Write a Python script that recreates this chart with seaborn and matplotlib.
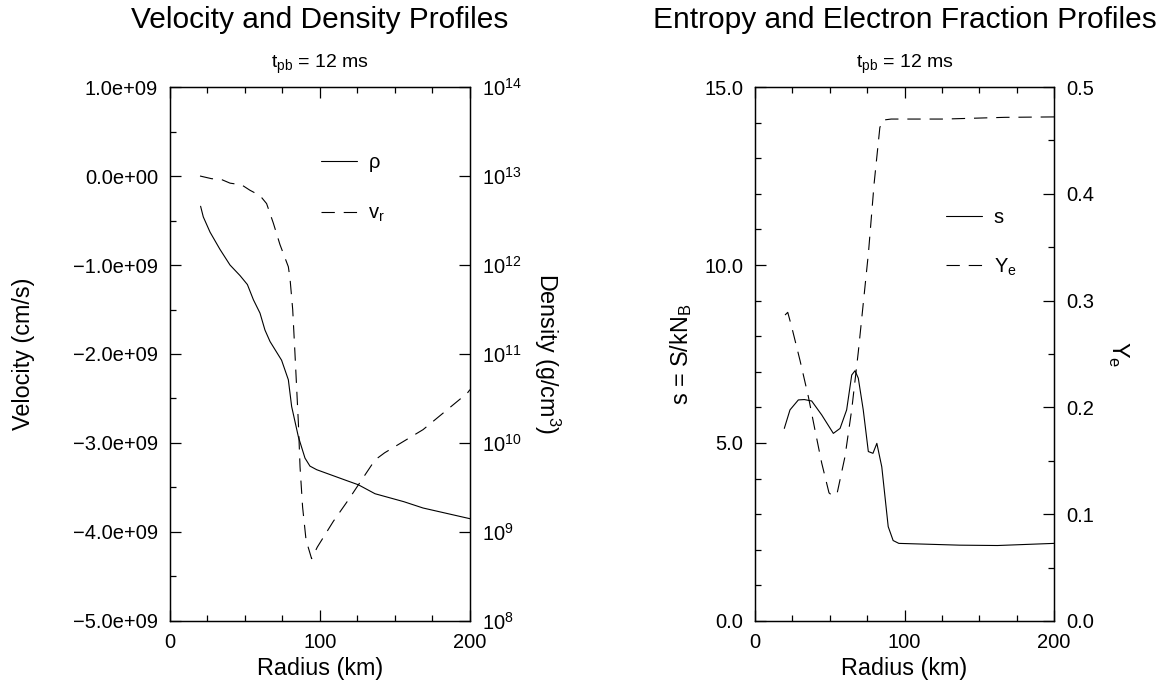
import matplotlib
matplotlib.use("Agg")
import matplotlib.pyplot as plt
import matplotlib.ticker as mticker
import seaborn as sns

# velocity / density profile (left panel)
r_vel = [20, 27.7, 34.4, 40, 47.8, 53.3, 60, 64.4, 68.9, 73.3, 78.9, 80, 81.8, 83.3,
         85.6, 86.7, 88.4, 90.7, 94.4, 98.2, 108.9, 118.9, 125.6, 136.7, 143.1, 168.7,
         198.2, 200]
vel = [0.0, -0.03, -0.04, -0.08, -0.1, -0.16, -0.22, -0.31, -0.53, -0.77, -1.02, -1.15,
       -1.5, -1.99, -2.78, -3.27, -3.72, -4.09, -4.3, -4.17, -3.88, -3.64, -3.47, -3.19,
       -3.11, -2.85, -2.44, -2.4]
vel = [v * 1e9 for v in vel]

r_rho = [20.4, 22.2, 26.7, 33.3, 40, 46.7, 51.6, 55.6, 60, 63.3, 66.7, 74.4, 78.9, 81.1,
         85.6, 90, 93.3, 97.8, 117.4, 125.6, 136.7, 155.9, 168.7, 200]
rho = [4.57e12, 3.47e12, 2.34e12, 1.5e12, 1.0e12, 7.6e11, 6.03e11, 4.07e11, 2.88e11,
       1.86e11, 1.38e11, 8.51e10, 5.13e10, 2.57e10, 1.17e10, 6.76e9, 5.5e9, 5.01e9,
       3.8e9, 3.39e9, 2.69e9, 2.19e9, 1.86e9, 1.41e9]

# entropy / electron fraction profile (right panel)
r_s = [19.6, 23.4, 29, 33, 37.9, 44.6, 52.4, 56.9, 61.3, 64.7, 66.9, 69.1, 72.4, 75.8,
       78.9, 81.5, 84.8, 89.1, 92.4, 96.2, 136.8, 162.2, 200]
entropy = [5.41, 5.93, 6.21, 6.22, 6.18, 5.79, 5.27, 5.41, 5.93, 6.91, 7.03, 6.82, 5.93,
           4.76, 4.71, 4.99, 4.33, 2.65, 2.26, 2.18, 2.13, 2.12, 2.18]

r_ye = [20.1, 21.9, 24.5, 30.1, 35.7, 40.1, 44.6, 49.5, 52, 55, 60.2, 64.7, 69.1, 75.9,
        79.7, 83.5, 85.5, 91.1, 126.6, 167, 200]
ye = [0.2865, 0.289, 0.2756, 0.244, 0.21, 0.179, 0.148, 0.12, 0.117, 0.12, 0.154, 0.198,
      0.252, 0.345, 0.41, 0.462, 0.469, 0.47, 0.47, 0.4716, 0.472]

sns.set_style("ticks", {"xtick.direction": "in", "ytick.direction": "in",
                        "axes.edgecolor": "black", "text.color": "black",
                        "axes.labelcolor": "black", "xtick.color": "black",
                        "ytick.color": "black"})
plt.rcParams['font.family'] = ['Liberation Sans', 'DejaVu Sans']
plt.rcParams['mathtext.fontset'] = 'custom'
plt.rcParams['mathtext.rm'] = 'Liberation Sans'
plt.rcParams['mathtext.default'] = 'regular'

TICK = 14.5
LAB = 16.8
dash = (0, (12, 8))

fig = plt.figure(figsize=(11.72, 6.83), dpi=100)
ax1 = fig.add_axes([0.14505, 0.0908, 0.25597, 0.7818])
ax3 = fig.add_axes([0.64420, 0.0908, 0.25512, 0.7818])
ax2 = ax1.twinx()
ax4 = ax3.twinx()


def sci_fmt(v, pos):
    s = '%.1e' % v
    return s.replace('-', '\u2212', 1) if s.startswith('-') else s


# Left panel
sns.lineplot(x=r_vel, y=vel, ax=ax1, color='black', lw=0.8, linestyle=dash)
sns.lineplot(x=r_rho, y=rho, ax=ax2, color='black', lw=0.8)
ax1.set_xlim(0, 200)
ax1.set_ylim(-5e9, 1e9)
ax2.set_yscale('log')
ax2.set_ylim(1e8, 1e14)
ax1.yaxis.set_major_locator(mticker.MultipleLocator(1e9))
ax1.yaxis.set_minor_locator(mticker.MultipleLocator(0.5e9))
ax1.yaxis.set_major_formatter(mticker.FuncFormatter(sci_fmt))
ax2.yaxis.set_major_locator(mticker.LogLocator(base=10, numticks=10))
ax2.yaxis.set_minor_locator(mticker.NullLocator())
ax1.set_xlabel('Radius (km)', fontsize=LAB, labelpad=4)
ax1.set_ylabel('Velocity (cm/s)', fontsize=LAB)
ax2.set_ylabel('Density (g/cm$^3$)', fontsize=LAB, rotation=270)

# Right panel
sns.lineplot(x=r_s, y=entropy, ax=ax3, color='black', lw=0.8)
sns.lineplot(x=r_ye, y=ye, ax=ax4, color='black', lw=0.8, linestyle=dash)
ax3.set_xlim(0, 200)
ax3.set_ylim(0, 15)
ax4.set_ylim(0, 0.5)
ax3.yaxis.set_major_locator(mticker.MultipleLocator(5))
ax3.yaxis.set_minor_locator(mticker.MultipleLocator(1))
ax3.yaxis.set_major_formatter(mticker.FormatStrFormatter('%.1f'))
ax4.yaxis.set_major_locator(mticker.MultipleLocator(0.1))
ax4.yaxis.set_minor_locator(mticker.MultipleLocator(0.05))
ax4.yaxis.set_major_formatter(mticker.FormatStrFormatter('%.1f'))
ax3.set_xlabel('Radius (km)', fontsize=LAB, labelpad=4)
ax3.set_ylabel('s = S/kN$_B$', fontsize=LAB)
ax4.set_ylabel('Y$_e$', fontsize=LAB, rotation=270)

# place the y labels by their centres
for a, xc in ((ax1, -0.49), (ax2, 1.257), (ax3, -0.249), (ax4, 1.214)):
    a.yaxis.set_label_coords(xc, 0.5)
    a.yaxis.label.set_rotation_mode('anchor')
    a.yaxis.label.set_va('center')
    a.yaxis.label.set_ha('center')

for a in (ax1, ax3):
    a.xaxis.set_major_locator(mticker.MultipleLocator(100))
    a.xaxis.set_minor_locator(mticker.MultipleLocator(25))
    a.tick_params(axis='x', which='both', top=True, direction='in')
for a in (ax1, ax2, ax3, ax4):
    a.tick_params(which='major', length=7.7, width=0.9, labelsize=TICK, pad=8.5)
    a.tick_params(which='minor', length=4, width=0.9)
    a.xaxis.get_offset_text().set_visible(False)
    for sp in a.spines.values():
        sp.set_visible(True)
        sp.set_linewidth(0.9)
        sp.set_color('black')
ax2.tick_params(axis='y', which='both', right=True, left=False)
ax4.tick_params(axis='y', which='both', right=True, left=False)
ax1.tick_params(axis='y', which='both', right=False)
ax3.tick_params(axis='y', which='both', right=False)
ax2.set_xlabel('')
ax4.set_xlabel('')

# titles
for a, title in ((ax1, 'Velocity and Density Profiles'),
                 (ax3, 'Entropy and Electron Fraction Profiles')):
    a.text(0.5, 1.11, title, transform=a.transAxes, ha='center', va='baseline', fontsize=21.5)
    a.text(0.5, 1.035, '$t_{pb}$ = 12 ms', transform=a.transAxes, ha='center',
           va='baseline', fontsize=14)

# legends
h1 = ax2.get_lines()[0]
h2 = ax1.get_lines()[0]
ax2.legend([h1, h2], ['\u03c1', 'v$_r$'], loc='upper left', bbox_to_anchor=(0.503, 0.877),
           frameon=False, fontsize=TICK, handlelength=1.8, handletextpad=0.56,
           labelspacing=1.6, borderpad=0, borderaxespad=0)
h3 = ax3.get_lines()[0]
h4 = ax4.get_lines()[0]
ax4.legend([h3, h4], ['s', 'Y$_e$'], loc='upper left', bbox_to_anchor=(0.639, 0.773),
           frameon=False, fontsize=TICK, handlelength=1.8, handletextpad=0.56,
           labelspacing=1.45, borderpad=0, borderaxespad=0)

fig.savefig('out.png', dpi=100, facecolor='white')
